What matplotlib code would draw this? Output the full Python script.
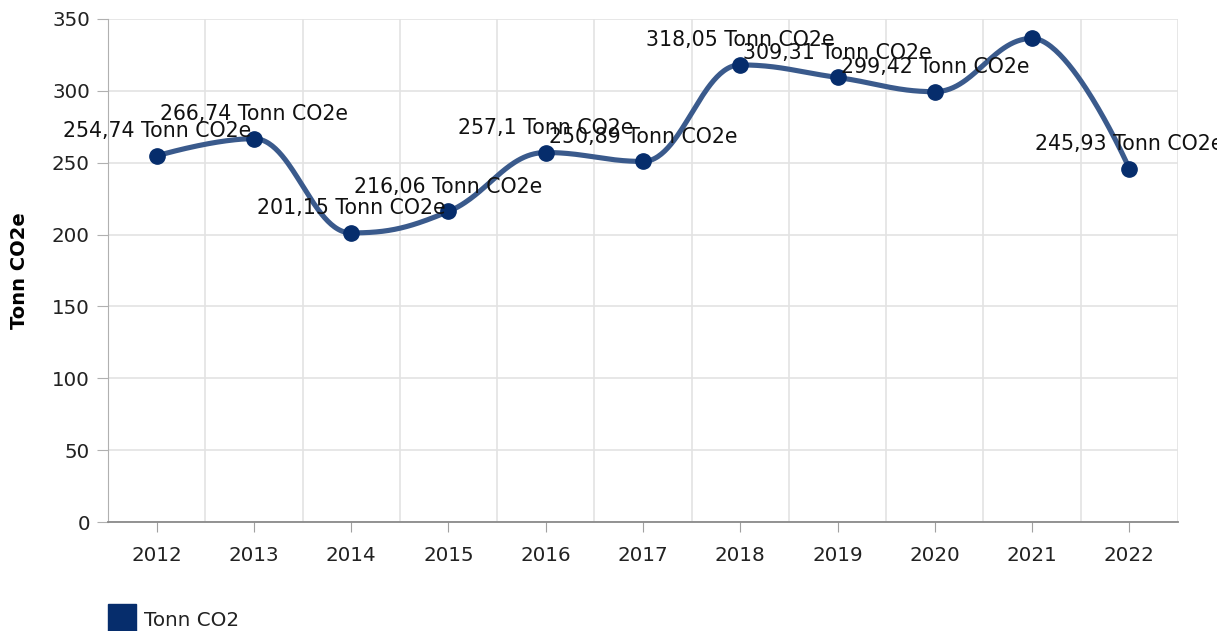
import numpy as np
import matplotlib.pyplot as plt

years = ['2012', '2013', '2014', '2015', '2016', '2017',
         '2018', '2019', '2020', '2021', '2022']
values = [254.74, 266.74, 201.15, 216.06, 257.1, 250.89,
          318.05, 309.31, 299.42, 336.5, 245.93]
labels = ['254,74', '266,74', '201,15', '216,06', '257,1', '250,89',
          '318,05', '309,31', '299,42', None, '245,93']
y_ticks = [0, 50, 100, 150, 200, 250, 300, 350]

LINE_COLOR = '#3a5a8c'
POINT_COLOR = '#062d6c'


def spline_path(xs, ys, smoothing=1.5):
    """Bezier curve through the points, built like a Highcharts spline."""
    denom = smoothing + 1
    n = len(xs)
    left, right = [], []
    for i in range(n):
        x, y = xs[i], ys[i]
        if i == 0 or i == n - 1:
            left.append((x, y))
            right.append((x, y))
            continue
        lx, ly = xs[i - 1], ys[i - 1]
        nx, ny = xs[i + 1], ys[i + 1]
        lcx = (smoothing * x + lx) / denom
        lcy = (smoothing * y + ly) / denom
        rcx = (smoothing * x + nx) / denom
        rcy = (smoothing * y + ny) / denom
        if rcx != lcx:
            corr = (rcy - lcy) * (rcx - x) / (rcx - lcx) + y - rcy
            lcy += corr
            rcy += corr
        if lcy > ly and lcy > y:
            lcy = max(ly, y)
            rcy = 2 * y - lcy
        elif lcy < ly and lcy < y:
            lcy = min(ly, y)
            rcy = 2 * y - lcy
        if rcy > ny and rcy > y:
            rcy = max(ny, y)
            lcy = 2 * y - rcy
        elif rcy < ny and rcy < y:
            rcy = min(ny, y)
            lcy = 2 * y - rcy
        left.append((lcx, lcy))
        right.append((rcx, rcy))

    t = np.linspace(0, 1, 60)
    px, py = [], []
    for i in range(n - 1):
        p0 = np.array([xs[i], ys[i]])
        p1 = np.array(right[i])
        p2 = np.array(left[i + 1])
        p3 = np.array([xs[i + 1], ys[i + 1]])
        seg = ((1 - t) ** 3)[:, None] * p0 + (3 * (1 - t) ** 2 * t)[:, None] * p1 \
            + (3 * (1 - t) * t ** 2)[:, None] * p2 + (t ** 3)[:, None] * p3
        px.extend(seg[:, 0])
        py.extend(seg[:, 1])
    return np.array(px), np.array(py)


fig = plt.figure(figsize=(12.17, 6.31), dpi=100)
ax = fig.add_axes([108 / 1217, 109 / 631, 1070 / 1217, 503 / 631])

x = np.arange(len(years))
sx, sy = spline_path(list(x.astype(float)), values)
ax.plot(sx, sy, color=LINE_COLOR, linewidth=3.7, solid_capstyle='round', zorder=3)
ax.plot(x, values, 'o', color=POINT_COLOR, markersize=11, zorder=4, clip_on=False)

for xi, v, lab in zip(x, values, labels):
    if lab is None:
        continue
    ax.annotate(f'{lab} Tonn CO2e', (xi, v), xytext=(0, 13.5),
                textcoords='offset points', ha='center', va='baseline',
                fontsize=14.8, color='#111111', zorder=5, annotation_clip=False)

ax.set_xlim(-0.5, len(years) - 0.5)
ax.set_ylim(0, 350)
ax.set_yticks(y_ticks)
ax.set_xticks(x)
ax.set_xticklabels(years)
ax.set_xticks(np.arange(-0.5, len(years)), minor=True)

ax.grid(True, which='minor', axis='x', color='#e3e3e3', linewidth=1.2)
ax.grid(True, which='major', axis='y', color='#e3e3e3', linewidth=1.2)
ax.set_axisbelow(True)

for side in ['top', 'right']:
    ax.spines[side].set_visible(False)
ax.spines['left'].set_color('#b0b0b0')
ax.spines['bottom'].set_color('#8a8a8a')
ax.spines['bottom'].set_linewidth(1.3)

ax.tick_params(axis='y', which='major', length=8, color='#b0b0b0',
               labelsize=14.3, labelcolor='#222222', pad=5)
ax.tick_params(axis='x', which='major', length=7, color='#a0a0a0',
               labelsize=14.3, labelcolor='#222222', pad=10)
ax.tick_params(axis='x', which='minor', length=0)

ax.set_ylabel('Tonn CO2e', fontsize=14, fontweight='bold')
ax.yaxis.set_label_coords(-0.074, 0.5)

# legend
fig.patches.append(plt.Rectangle((108 / 1217, 0), 28 / 1217, 27 / 631,
                                 transform=fig.transFigure, color=POINT_COLOR))
fig.text(144 / 1217, 11 / 631, 'Tonn CO2', fontsize=14.3, color='#222222',
         va='center', ha='left')

fig.savefig('out.png', dpi=100)
